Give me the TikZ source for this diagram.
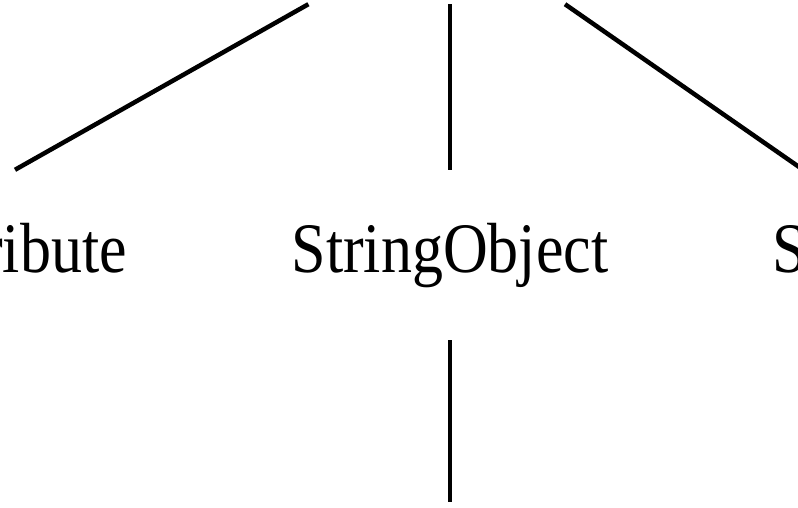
\documentclass[tikz,border=0pt]{standalone}
\usepackage{fontspec}
\setmainfont{Liberation Serif}
\newfontfamily\treefont[FakeStretch=0.873]{Liberation Serif}
\tikzset{
	word/.style={black, font=\treefont\fontsize{71}{80}\selectfont, text height=50pt, text depth=16pt, inner xsep=0pt, inner ysep=52pt, anchor=base},
	branch/.style={draw=black, line width=4.5pt, solid},
}
\begin{document}
\begin{tikzpicture}[x=1pt, y=-1pt]
		\useasboundingbox (0,0) rectangle (798,507);
		\clip (0,0) rectangle (798,507);
		\node[minimum width=300pt, minimum height=160pt] (root) at (450,-76) {};
		\node[word] (attr) at (15,272) {Attribute};
		\node[word] (strobj) at (450,272) {StringObject};
		\node[word, anchor=base west] (sv) at (772,272) {S};
		\coordinate (svtop) at (802,169);
		\coordinate (leaf) at (450,502);
		\draw[branch] (root) -- (attr.north);
		\draw[branch] (root) -- (strobj);
		\draw[branch] (root) -- (svtop);
		\draw[branch] (strobj) -- (leaf);
	\end{tikzpicture}
\end{document}
